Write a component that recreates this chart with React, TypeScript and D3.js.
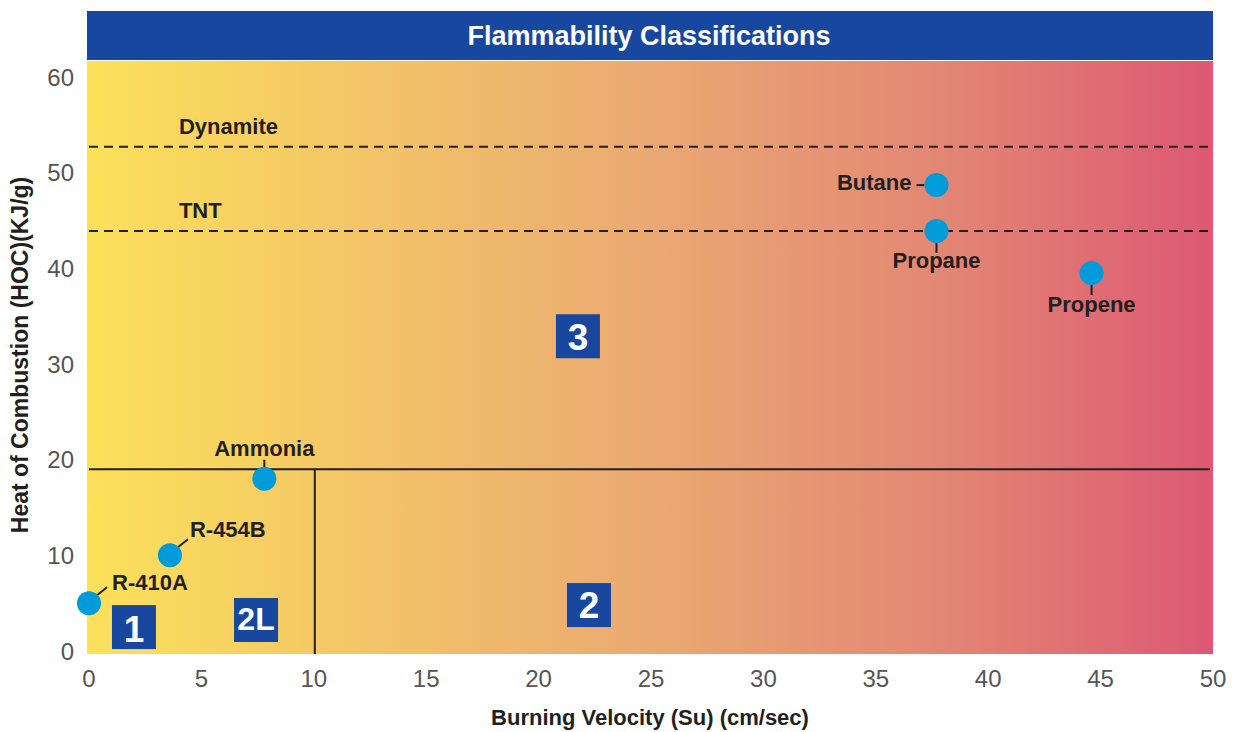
import React from "react";
import * as d3 from "d3";

const xTicks = [0, 5, 10, 15, 20, 25, 30, 35, 40, 45, 50];
const yTicks = [0, 10, 20, 30, 40, 50, 60];

const substances = ["R-410A", "R-454B", "Ammonia", "Butane", "Propane", "Propene"];
const burningVelocity = [0, 3.6, 7.8, 37.7, 37.7, 44.6];
const heatOfCombustion = [5.0, 10.0, 18.0, 48.7, 43.9, 39.5];
// label placement: dx, dy (px offsets from point), anchor
const labelPos: [number, number, string][] = [
  [23, -13, "start"],
  [20, -18, "start"],
  [0, -23, "middle"],
  [-25, 5, "end"],
  [0, 37, "middle"],
  [0, 39, "middle"],
];

const refNames = ["Dynamite", "TNT"];
const refValues = [52.7, 43.9];

const classNames = ["1", "2L", "3", "2"];
const classX = [2.0, 7.43, 21.75, 22.24];
const classY = [2.5, 3.24, 32.9, 4.8];
const classSize = [37, 32, 37, 37];
const classBase = [15, 10, 14, 13];

const limitHOC = 19;
const limitBV = 10;

export default function App() {
  const W = 1234, H = 732;
  const x = d3.scaleLinear().domain([0, 50]).range([89, 1213]);
  const y = d3.scaleLinear().domain([0, 60]).range([651, 77]);
  const left = 87, right = 1213, top = 61, bottom = 654;
  const font = "'Liberation Sans', Arial, sans-serif";
  const dark = "#231f20";

  return (
    <svg width={W} height={H} style={{ position: "absolute", left: 0, top: 0 }} fontFamily={font}>
      <defs>
        <linearGradient id="bg" x1="0" x2="1" y1="0" y2="0">
          <stop offset="0" stopColor="#FCE15A" />
          <stop offset="0.25" stopColor="#F3C468" />
          <stop offset="0.5" stopColor="#EAA972" />
          <stop offset="0.75" stopColor="#E38874" />
          <stop offset="1" stopColor="#DC5973" />
        </linearGradient>
      </defs>
      <rect x={0} y={0} width={W} height={H} fill="#fff" />
      <rect x={left} y={11} width={right - left} height={49} fill="#17479E" />
      <text x={(left + right) / 2 - 1} y={45} textAnchor="middle" fill="#fff" fontWeight="bold" fontSize={27}>
        Flammability Classifications
      </text>
      <rect x={left} y={top} width={right - left} height={bottom - top} fill="url(#bg)" />

      {/* reference dashed lines */}
      {refNames.map((n, i) => (
        <g key={n}>
          <line x1={left + 2} x2={right - 2} y1={y(refValues[i])} y2={y(refValues[i])}
            stroke={dark} strokeWidth={2} strokeDasharray="9,6" />
          <text x={x(4.0)} y={y(refValues[i]) - 13} fill={dark} fontWeight="bold" fontSize={22}>{n}</text>
        </g>
      ))}

      {/* class boundaries */}
      <line x1={x(0)} x2={x(50) - 3} y1={y(limitHOC)} y2={y(limitHOC)} stroke={dark} strokeWidth={2} />
      <line x1={x(limitBV) + 1} x2={x(limitBV) + 1} y1={y(limitHOC)} y2={bottom} stroke={dark} strokeWidth={2} />

      {/* class boxes */}
      {classNames.map((c, i) => (
        <g key={c}>
          <rect x={x(classX[i]) - 22} y={y(classY[i]) - 22} width={44} height={44} fill="#17479E" />
          <text x={x(classX[i])} y={y(classY[i]) + classBase[i]} textAnchor="middle" fill="#fff" fontWeight="bold" fontSize={classSize[i]}>{c}</text>
        </g>
      ))}

      {/* points */}
      {substances.map((s, i) => {
        const px = x(burningVelocity[i]);
        const py = y(heatOfCombustion[i]);
        const [dx, dy, anchor] = labelPos[i];
        let leader: React.ReactNode = null;
        if (anchor === "middle" && dy < 0) leader = <line x1={px} x2={px} y1={py - 11} y2={py - 19} stroke={dark} strokeWidth={2} />;
        if (anchor === "middle" && dy > 0) leader = <line x1={px} x2={px} y1={py + 11} y2={py + 22} stroke={dark} strokeWidth={2} />;
        if (anchor === "end") leader = <line x1={px - 12} x2={px - 20} y1={py} y2={py} stroke={dark} strokeWidth={2} />;
        if (anchor === "start") leader = <line x1={px + 8} x2={px + 18} y1={py - 8} y2={py - 16} stroke={dark} strokeWidth={2} />;
        return (
          <g key={s}>
            {leader}
            <circle cx={px} cy={py} r={12} fill="#009BD8" />
            <text x={px + dx} y={py + dy} textAnchor={anchor} fill={dark} fontWeight="bold" fontSize={22}>{s}</text>
          </g>
        );
      })}

      {/* axes tick labels */}
      {xTicks.map((t) => (
        <text key={"x" + t} x={x(t)} y={687} textAnchor="middle" fill="#555" fontSize={24}>{t}</text>
      ))}
      {yTicks.map((t) => (
        <text key={"y" + t} x={74} y={y(t) + 8.5} textAnchor="end" fill="#555" fontSize={24}>{t}</text>
      ))}
      <text x={650} y={725} textAnchor="middle" fill={dark} fontWeight="bold" fontSize={22}>
        Burning Velocity (Su) (cm/sec)
      </text>
      <text transform={`translate(28, 355) rotate(-90)`} textAnchor="middle" fill={dark} fontWeight="bold" fontSize={23}>
        Heat of Combustion (HOC)(KJ/g)
      </text>
    </svg>
  );
}
